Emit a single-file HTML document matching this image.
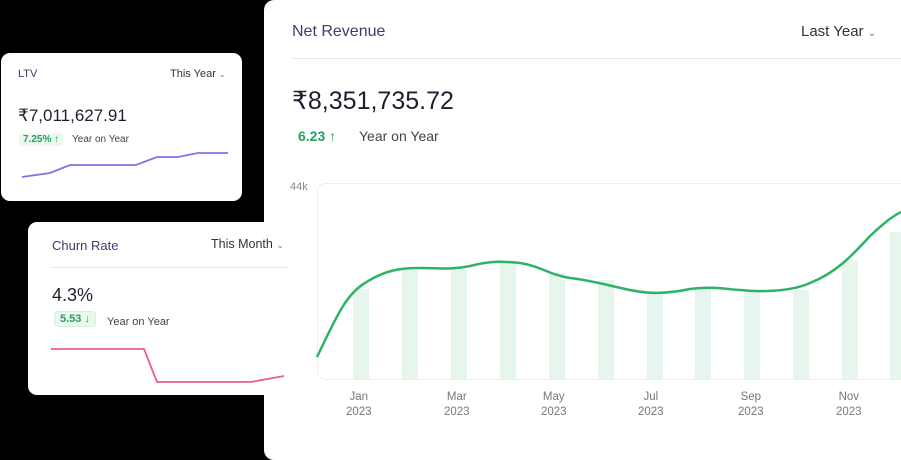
<!DOCTYPE html>
<html><head><style>
body{margin:0;width:901px;height:450px;background:#000;position:relative;overflow:hidden;font-family:"Liberation Sans",sans-serif}
.card{position:absolute;background:#fff;border-radius:9px}
.t{position:absolute;white-space:nowrap}
</style></head><body>
<div class="card" style="left:264px;top:0;width:660px;height:460px;border-radius:10px;"></div>
<div class="t" style="left:292px;top:23px;font-size:16px;color:#3a3f6b">Net Revenue</div>
<div class="t" style="left:801px;top:23px;font-size:15px;color:#333">Last Year <span style="font-size:10px;color:#777">&#8964;</span></div>
<div style="position:absolute;left:292px;top:58px;width:609px;height:1px;background:#e8e8ee"></div>
<div class="t" style="left:292px;top:86px;font-size:25px;color:#1c1f2e">₹8,351,735.72</div>
<div class="t" style="left:298px;top:128px;font-size:14px;color:#22a35a;font-weight:bold">6.23 ↑</div>
<div class="t" style="left:359px;top:128px;font-size:14px;color:#444">Year on Year</div>
<div class="t" style="left:290px;top:181px;font-size:11px;color:#888">44k</div>
<svg style="position:absolute;left:0;top:0" width="901" height="450">
<rect x="317.5" y="183.5" width="600" height="196" rx="8" fill="none" stroke="#eeeef2"/>
<g fill="#e6f6ec">
<rect x="353" y="289" width="16" height="90"/><rect x="402" y="270" width="16" height="109"/><rect x="451" y="270" width="16" height="109"/><rect x="500" y="262" width="16" height="117"/><rect x="549" y="273" width="16" height="106"/><rect x="598" y="280" width="16" height="99"/><rect x="647" y="292" width="16" height="87"/><rect x="695" y="287" width="16" height="92"/><rect x="744" y="290" width="16" height="89"/><rect x="793" y="290" width="16" height="89"/><rect x="842" y="260" width="16" height="119"/><rect x="890" y="232" width="16" height="147"/>
</g>
<path d="M317,357 C335,320 345,295 365,283 C385,270 400,268 420,268 C440,268 450,270 470,266 C490,261 500,261 520,263 C540,266 550,275 570,278 C595,281 610,286 630,290 C650,294 665,294 690,289 C710,286 725,289 740,290 C760,292 790,292 810,283 C835,273 850,258 870,236 C885,222 893,216 901,212" fill="none" stroke="#2eb366" stroke-width="2.5"/>
</svg>
<div class="t" style="left:346px;top:390px;font-size:11.5px;color:#777;text-align:center;line-height:15px">Jan<br>2023</div>
<div class="t" style="left:444px;top:390px;font-size:11.5px;color:#777;text-align:center;line-height:15px">Mar<br>2023</div>
<div class="t" style="left:541px;top:390px;font-size:11.5px;color:#777;text-align:center;line-height:15px">May<br>2023</div>
<div class="t" style="left:638px;top:390px;font-size:11.5px;color:#777;text-align:center;line-height:15px">Jul<br>2023</div>
<div class="t" style="left:738px;top:390px;font-size:11.5px;color:#777;text-align:center;line-height:15px">Sep<br>2023</div>
<div class="t" style="left:836px;top:390px;font-size:11.5px;color:#777;text-align:center;line-height:15px">Nov<br>2023</div>

<div class="card" style="left:1px;top:53px;width:241px;height:148px;"></div>
<div class="t" style="left:18px;top:68px;font-size:11px;color:#3a3f6b">LTV</div>
<div class="t" style="left:170px;top:68px;font-size:11px;color:#333">This Year <span style="font-size:8px;color:#777">&#8964;</span></div>
<div class="t" style="left:18px;top:106px;font-size:17px;color:#1c1f2e">₹7,011,627.91</div>
<div class="t" style="left:19px;top:133px;font-size:10px;color:#22a35a;background:#eaf8ef;padding:1px 4px;border-radius:3px;font-weight:bold">7.25% ↑</div>
<div class="t" style="left:72px;top:134px;font-size:10px;color:#444">Year on Year</div>
<svg style="position:absolute;left:0;top:0" width="250" height="210">
<path d="M22,177 L50,173 L70,165 L136,165 L157,157 L178,157 L198,153 L228,153" fill="none" stroke="#8a6fe0" stroke-width="1.8"/>
</svg>

<div class="card" style="left:28px;top:222px;width:281px;height:173px;"></div>
<div class="t" style="left:52px;top:238px;font-size:13px;color:#3a3f6b">Churn Rate</div>
<div class="t" style="left:211px;top:237px;font-size:12.5px;color:#333">This Month <span style="font-size:9px;color:#777">&#8964;</span></div>
<div style="position:absolute;left:52px;top:267px;width:236px;height:1px;background:#e8e8ee"></div>
<div class="t" style="left:52px;top:285px;font-size:18px;color:#1c1f2e">4.3%</div>
<div class="t" style="left:54px;top:311px;font-size:11px;color:#22a35a;background:#eaf8ef;padding:1px 5px;border-radius:4px;font-weight:bold;border:1px solid #d5f0df">5.53 ↓</div>
<div class="t" style="left:107px;top:316px;font-size:11px;color:#444">Year on Year</div>
<svg style="position:absolute;left:0;top:0" width="310" height="400">
<path d="M51,349 L144,349 L157,382 L251,382 L284,376" fill="none" stroke="#ea5f8e" stroke-width="1.8"/>
</svg>
</body></html>
